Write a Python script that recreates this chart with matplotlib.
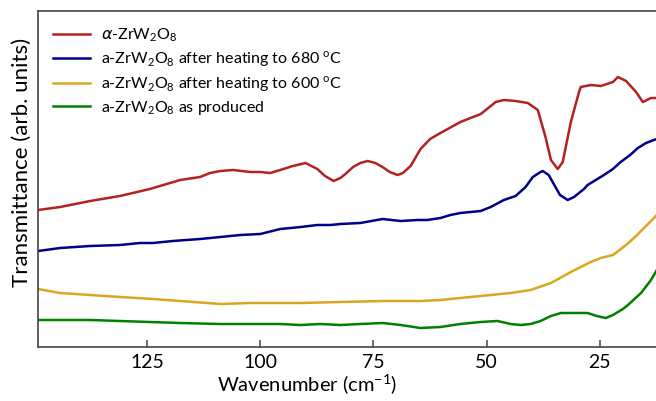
import matplotlib
matplotlib.use("Agg")
import matplotlib.pyplot as plt

plt.rcParams['font.family'] = ['Lato', 'DejaVu Sans']
plt.rcParams['mathtext.fontset'] = 'custom'
plt.rcParams['mathtext.rm'] = 'Lato'
plt.rcParams['mathtext.it'] = 'DejaVu Sans:italic'

# alpha-ZrW2O8
wn_alpha = [149.1, 144.2, 137.6, 131.0, 124.4, 117.7, 113.3, 111.1, 108.8, 106.0,
            102.2, 100.0, 97.8, 95.6, 92.8, 90.0, 87.4, 85.7, 83.8, 82.3, 81.2,
            79.5, 77.9, 76.3, 74.6, 73.0, 71.4, 69.7, 68.5, 66.8, 64.6, 62.5,
            60.2, 55.8, 51.3, 48.0, 46.2, 43.6, 40.9, 38.7, 37.0, 35.8, 34.3,
            33.2, 31.4, 29.6, 29.2, 27.0, 24.8, 22.1, 21.0, 19.2, 17.0, 15.5,
            13.7, 12.4]
tr_alpha = [137, 140, 146, 151, 158, 167, 170, 174, 176, 177,
            175, 175, 174, 177, 181, 184, 178, 171, 166, 169, 173,
            180, 184, 186, 184, 180, 175, 172, 174, 181, 198, 208,
            214, 225, 233, 245, 247, 246, 244, 237, 210, 187, 178,
            185, 225, 255, 260, 262, 261, 265, 270, 266, 255, 245,
            249, 249]

# a-ZrW2O8 after heating to 680 C
wn_680 = [149.1, 144.2, 137.6, 131.0, 126.6, 123.7, 119.3, 113.3, 108.8, 104.4,
          100.0, 95.6, 93.3, 91.1, 87.4, 84.5, 82.3, 77.9, 73.0, 69.0, 65.3,
          63.1, 60.2, 58.0, 55.8, 51.3, 49.1, 46.2, 43.6, 41.4, 39.8, 38.1,
          37.6, 36.3, 35.3, 33.8, 32.1, 30.7, 28.5, 27.7, 24.1, 22.1, 20.4,
          18.3, 16.6, 14.8, 13.1, 12.4]
tr_680 = [96, 99, 101, 102, 104, 104, 106, 108, 110, 112,
          113, 118, 119, 120, 122, 122, 123, 124, 128, 126, 127,
          127, 129, 132, 134, 136, 140, 147, 151, 160, 170, 175,
          176, 172, 164, 152, 147, 150, 158, 162, 172, 178, 185,
          192, 199, 204, 207, 208]

# a-ZrW2O8 after heating to 600 C
wn_600 = [149.1, 144.2, 137.6, 131.0, 123.7, 117.7, 108.8, 102.2, 95.6, 91.1,
          82.3, 73.0, 64.6, 60.2, 55.8, 49.1, 44.7, 40.3, 35.8, 31.4, 27.0,
          24.8, 22.1, 19.2, 17.0, 14.8, 12.4]
tr_600 = [58, 54, 52, 50, 48, 46, 43, 44, 44, 44,
          45, 46, 46, 47, 49, 52, 54, 57, 64, 75, 85,
          89, 92, 102, 111, 121, 132]

# a-ZrW2O8 as produced
wn_prod = [149.1, 137.6, 131.0, 124.4, 117.7, 108.8, 102.2, 95.6, 91.1, 86.7,
           82.3, 77.9, 73.0, 69.0, 64.6, 60.2, 55.8, 51.3, 47.6, 44.7, 42.5,
           40.3, 38.1, 35.8, 33.6, 31.4, 27.7, 25.7, 23.7, 22.1, 19.9, 18.8,
           15.9, 13.7, 12.4]
tr_prod = [27, 27, 26, 25, 24, 23, 23, 23, 22, 23,
           22, 23, 24, 22, 19, 20, 23, 25, 26, 23, 22,
           23, 26, 31, 34, 34, 34, 31, 29, 32, 38, 42,
           54, 67, 77]

labels = [r'$\alpha$-ZrW$_2$O$_8$',
          r'a-ZrW$_2$O$_8$ after heating to 680 $^\mathrm{o}$C',
          r'a-ZrW$_2$O$_8$ after heating to 600 $^\mathrm{o}$C',
          r'a-ZrW$_2$O$_8$ as produced']
colors = ['#b22222', '#00008b', '#daa520', '#008000']

fig = plt.figure(figsize=(6.56, 4.01), dpi=100)
ax = fig.add_axes([38/656, 54/401, (670-38)/656, 336/401])

series = [(wn_alpha, tr_alpha), (wn_680, tr_680), (wn_600, tr_600), (wn_prod, tr_prod)]
for (x, y), c, lab in zip(series, colors, labels):
    ax.plot(x, y, color=c, lw=1.8, label=lab)

ax.set_xlim(149.1, 9.5)
ax.set_ylim(0, 336)
ax.set_xticks([125, 100, 75, 50, 25])
ax.set_yticks([])
ax.tick_params(axis='x', direction='in', length=5, width=1.2, color='#555555',
               labelsize=14, pad=5)
for s in ax.spines.values():
    s.set_color('#444444')
    s.set_linewidth(1.2)

ax.set_xlabel('Wavenumber (cm$^{-1}$)', fontsize=14.5)
ax.xaxis.set_label_coords(0.4256, -0.075)
ax.set_ylabel('Transmittance (arb. units)', fontsize=16)
ax.yaxis.set_label_coords(-0.01, 0.55)

ax.legend(loc='upper left', frameon=False, fontsize=11.5, handlelength=2.3,
          handletextpad=0.7, labelspacing=0.33, borderaxespad=0.55)

fig.savefig('out.png', dpi=100)
